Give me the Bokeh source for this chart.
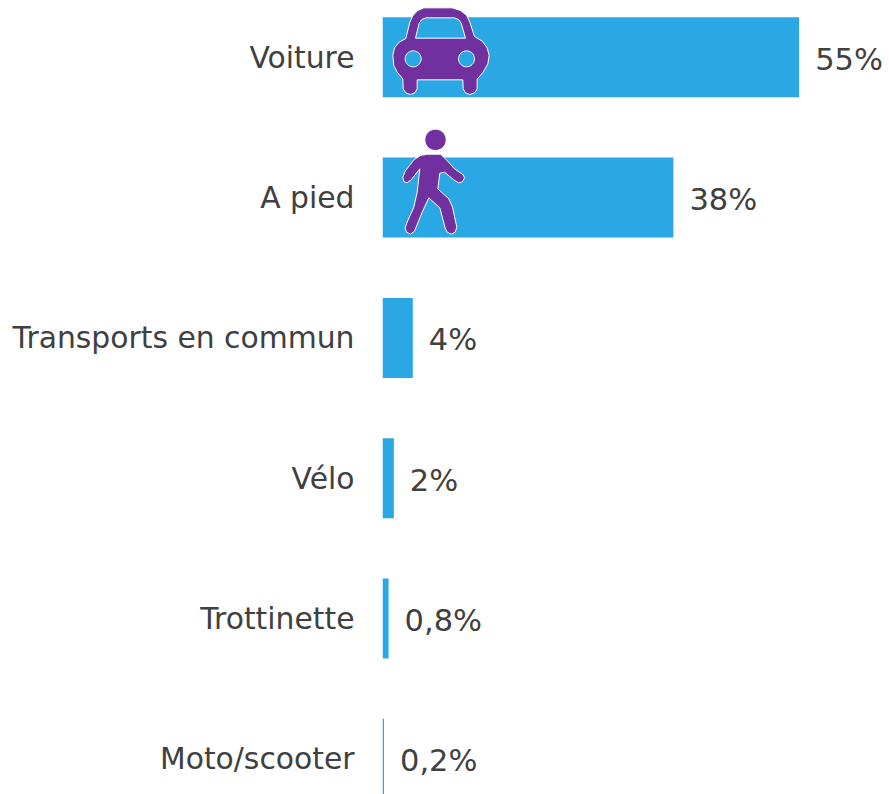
import numpy as np
from bokeh.embed import file_html
from bokeh.resources import INLINE
from bokeh.plotting import figure
from bokeh.models import ColumnDataSource, FixedTicker, Range1d
from bokeh.core.properties import value

categories = ["Voiture", "A pied", "Transports en commun", "Vélo", "Trottinette", "Moto/scooter"]
values = [55, 38.4, 4, 1.5, 0.8, 0.2]
labels = ["55%", "38%", "4%", "2%", "0,8%", "0,2%"]

BLUE, PURPLE, GREY = "#2aa8e4", "#7030a0", "#404040"
FONT = "DejaVu Sans"
LEFT, W, H = 382, 507, 794
PX = 7.575          # pixels per percentage point
PITCH, FIRST = 140.3, 56.8   # pixels between bars, centre of the first bar

p = figure(width=W + LEFT, height=H, output_backend="svg", toolbar_location=None,
           x_range=Range1d(0, W / PX),
           y_range=Range1d((H - FIRST) / PITCH, -FIRST / PITCH),
           min_border_left=LEFT, min_border_right=0, min_border_top=0, min_border_bottom=0,
           outline_line_color=None, background_fill_color=None, border_fill_color=None)
p.xgrid.visible = False
p.ygrid.visible = False
p.xaxis.visible = False
ax = p.yaxis[0]
ax.ticker = FixedTicker(ticks=list(range(len(categories))))
ax.major_label_overrides = {i: c for i, c in enumerate(categories)}
ax.axis_line_color = None
ax.major_tick_line_color = None
ax.minor_tick_line_color = None
ax.major_tick_out = 0
ax.major_label_standoff = 28
ax.major_label_text_font = FONT
ax.major_label_text_font_size = "29.8px"
ax.major_label_text_color = GREY

ys = list(range(len(categories)))
src = ColumnDataSource(dict(y=ys, v=values, t=labels))
p.hbar(y="y", left=0, right="v", height=80 / PITCH, source=src, fill_color=BLUE, line_color=None)
p.text(x="v", y="y", text="t", source=src, x_offset=16, y_offset=2,
       text_font=value(FONT), text_font_size="30.5px", text_color=GREY,
       text_align="left", text_baseline="middle")

# Pictograms: outlines in reference pixels at 3x, relative to a crop origin.
def to_x(z, ox):
    return ((ox + np.asarray(z, float) / 3 - LEFT) / PX).tolist()
def to_y(z, oy):
    return ((oy + np.asarray(z, float) / 3 - 57.2) / PITCH + (57.2 - FIRST) / PITCH).tolist()
def ring(cx, cy, r, n=40):
    a = np.linspace(0, 2 * np.pi, n, endpoint=False)
    return cx + r * np.cos(a), cy + r * np.sin(a)
def poly(pts):
    a = np.array(pts, float)
    return a[:, 0], a[:, 1]

car_body = [(130,22),(215,22),(240,30),(258,44),(268,65),(282,108),(305,122),(320,142),(326,165),(322,190),
            (308,215),(290,236),(290,265),(282,277),(268,282),(255,277),(248,265),(247,238),(110,238),(110,265),
            (103,277),(90,282),(76,277),(68,265),(67,235),(50,215),(40,195),(37,165),(42,142),(56,125),(76,114),
            (88,65),(98,44),(112,30)]
car_window = [(105,113),(116,68),(124,57),(136,52),(222,52),(234,57),(242,68),(255,113)]
walker_body = [(140,101),(180,101),(198,118),(222,145),(248,163),(252,172),(246,184),(234,187),(220,178),(192,155),
               (178,158),(172,205),(205,235),(216,260),(229,320),(224,335),(212,341),(200,335),(194,322),(178,262),
               (145,232),(125,275),(102,332),(90,341),(78,335),(74,322),(80,305),(100,260),(110,215),(118,145),
               (92,178),(80,187),(70,183),(67,170),(74,152),(100,118),(120,105)]

def add(outline, holes, ox, oy):
    xs, ys_ = outline
    hx = [to_x(h[0], ox) for h in holes]
    hy = [to_y(h[1], oy) for h in holes]
    p.multi_polygons(xs=[[[to_x(xs, ox)] + hx]], ys=[[[to_y(ys_, oy)] + hy]],
                     fill_color=PURPLE, line_color="white", line_width=1)

add(poly(car_body), [poly(car_window), ring(98, 175, 24), ring(258, 175, 24)], 380, 0)
add(poly(walker_body), [], 380, 120)
add(ring(165, 58, 32), [], 380, 120)

open("out.html", "w").write(file_html(p, INLINE))
